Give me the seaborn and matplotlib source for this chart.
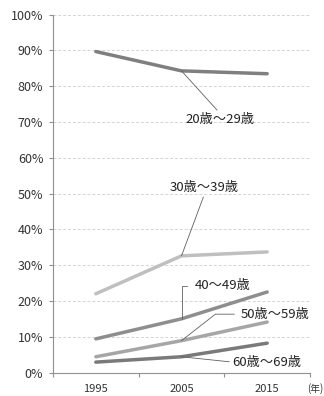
import matplotlib
matplotlib.use("Agg")
import matplotlib.pyplot as plt
import seaborn as sns
import pandas as pd
import numpy as np
from matplotlib.ticker import FixedLocator, PercentFormatter

years = ["1995", "2005", "2015"]
groups = ["20歳～29歳", "30歳～39歳", "40～49歳", "50歳～59歳", "60歳～69歳"]
v20 = [89.7, 84.3, 83.5]
v30 = [22.0, 32.6, 33.7]
v40 = [9.4, 15.0, 22.5]
v50 = [4.4, 8.9, 14.1]
v60 = [2.9, 4.4, 8.2]
series = [v20, v30, v40, v50, v60]
colors = ["#7f7f7f", "#bfbfbf", "#8e8e8e", "#a6a6a6", "#7a7a7a"]

rows = []
for g, vals in zip(groups, series):
    for i, (y, v) in enumerate(zip(years, vals)):
        rows.append({"pos": i, "year": y, "group": g, "value": v})
df = pd.DataFrame(rows)

sns.set_theme(style="white")
plt.rcParams["font.family"] = ["Noto Sans CJK JP", "DejaVu Sans"]

fig = plt.figure(figsize=(3.24, 3.96), dpi=100)
ax = fig.add_axes([53/324, 1-372.5/396, 257/324, (372.5-14.7)/396])

sns.lineplot(data=df, x="pos", y="value", hue="group", palette=colors,
             linewidth=2.5, legend=False, ax=ax, sort=False)

ax.set_xlim(-0.5, 2.5)
ax.set_ylim(0, 100)
ax.set_yticks(np.arange(0, 101, 10))
ax.yaxis.set_major_formatter(PercentFormatter(decimals=0))
ax.set_xticks(range(len(years)))
ax.set_xticklabels(years)
ax.xaxis.set_minor_locator(FixedLocator([-0.5, 0.5, 1.5, 2.5]))
ax.tick_params(axis="x", which="major", length=0, pad=8, labelsize=8, colors="#333333")
ax.tick_params(axis="x", which="minor", length=3, width=0.8, direction="out", color="#909090", bottom=True)
ax.tick_params(axis="y", length=3, width=0.8, direction="out", color="#909090", pad=4, labelsize=9, labelcolor="#333333", left=True)
ax.set_xlabel("")
ax.set_ylabel("")
ax.yaxis.grid(True, color="#d4d4d4", linestyle=(0, (3, 2)), linewidth=0.7)
ax.xaxis.grid(False)
for s in ["top", "right"]:
    ax.spines[s].set_visible(False)
for s in ["left", "bottom"]:
    ax.spines[s].set_color("#909090")
    ax.spines[s].set_linewidth(0.8)

lp = dict(arrowstyle="-", color="#606060", lw=0.6, shrinkA=0, shrinkB=0)
fs = 9.5
tc = "#222222"
ax.annotate(groups[0], xy=(1, v20[1]), xytext=(1.45, 70.6), ha="center", va="center",
            fontsize=fs, color=tc,
            arrowprops=dict(**lp, relpos=(0.5, 1.0)))
ax.annotate(groups[1], xy=(1, v30[1]), xytext=(1.27, 51.8), ha="center", va="center",
            fontsize=fs, color=tc,
            arrowprops=dict(**lp, relpos=(0.5, 0.0)))
ax.annotate(groups[2], xy=(1, v40[1]), xytext=(1.48, 24.2), ha="center", va="center",
            fontsize=fs, color=tc,
            arrowprops=dict(arrowstyle="-", color="#606060", lw=0.6, shrinkA=3, shrinkB=0,
                            relpos=(0.0, 0.5), connectionstyle="angle,angleA=0,angleB=90,rad=0"))
ax.annotate(groups[3], xy=(1, v50[1]), xytext=(2.09, 16.3), ha="center", va="center",
            fontsize=fs, color=tc,
            arrowprops=dict(arrowstyle="-", color="#606060", lw=0.6, shrinkA=2, shrinkB=0,
                            relpos=(0.0, 0.5), connectionstyle="angle,angleA=0,angleB=38,rad=0"))
ax.annotate(groups[4], xy=(1, v60[1]), xytext=(2.0, 2.9), ha="center", va="center",
            fontsize=fs, color=tc,
            arrowprops=dict(**lp, relpos=(0.0, 0.5)))

fig.text(315/324, 1-389/396, "(年)", ha="center", va="center", fontsize=7, color="#333333")

fig.savefig("out.png", dpi=100)
